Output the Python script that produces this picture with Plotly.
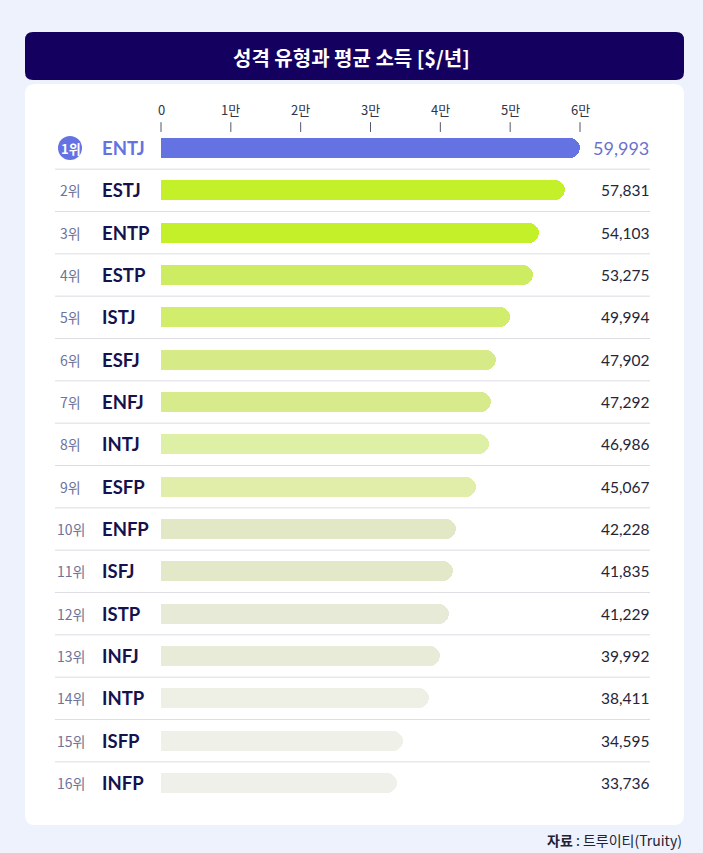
import plotly.graph_objects as go

# ---- data ----
ranks = ["1위", "2위", "3위", "4위", "5위", "6위", "7위", "8위",
         "9위", "10위", "11위", "12위", "13위", "14위", "15위", "16위"]
types = ["ENTJ", "ESTJ", "ENTP", "ESTP", "ISTJ", "ESFJ", "ENFJ", "INTJ",
         "ESFP", "ENFP", "ISFJ", "ISTP", "INFJ", "INTP", "ISFP", "INFP"]
incomes = [59993, 57831, 54103, 53275, 49994, 47902, 47292, 46986,
           45067, 42228, 41835, 41229, 39992, 38411, 34595, 33736]
bar_colors = ["#6472E2", "#C4F02A", "#C4F02A", "#CDEC62", "#D2EC6C", "#D6EA88",
              "#D7EA8C", "#DEEFA6", "#E1EEAA", "#E2E8C6", "#E3E8C9", "#E6EAD6",
              "#E7EBD8", "#EEF0E6", "#EFF0E8", "#F0F0EA"]
tick_vals = [0, 10000, 20000, 30000, 40000, 50000, 60000]
tick_text = ["0", "1만", "2만", "3만", "4만", "5만", "6만"]
title = "성격 유형과 평균 소득 [$/년]"
source_bold = "자료"
source_rest = " : 트루이티(Truity)"

# ---- layout geometry ----
W, H = 703, 853
X0PX = 161.0
SCALE = 419.0 / 60000.0          # px per unit
ROW0PX = 148.0
ROWPX = 42.333
x_range = [-X0PX / SCALE, (W - X0PX) / SCALE]
y_range = [(H - ROW0PX) / ROWPX, -ROW0PX / ROWPX]


def px_x(p):
    return p / W


def px_y(p):
    return 1 - p / H


KFONT = "Noto Sans CJK KR"
n = len(types)
ys = list(range(n))

fig = go.Figure()
fig.add_trace(go.Bar(
    x=incomes, y=ys, orientation="h", width=20 / ROWPX,
    marker=dict(color=bar_colors, line=dict(width=0), cornerradius=10),
    hoverinfo="skip", showlegend=False,
))


def rounded_path(x0, y0, x1, y1, rad):
    X = lambda v: px_x(v)
    Y = lambda v: px_y(v)
    return (f"M {X(x0+rad)},{Y(y0)} L {X(x1-rad)},{Y(y0)} Q {X(x1)},{Y(y0)} {X(x1)},{Y(y0+rad)} "
            f"L {X(x1)},{Y(y1-rad)} Q {X(x1)},{Y(y1)} {X(x1-rad)},{Y(y1)} "
            f"L {X(x0+rad)},{Y(y1)} Q {X(x0)},{Y(y1)} {X(x0)},{Y(y1-rad)} "
            f"L {X(x0)},{Y(y0+rad)} Q {X(x0)},{Y(y0)} {X(x0+rad)},{Y(y0)} Z")


shapes = []
shapes.append(dict(type="path", xref="paper", yref="paper", layer="below",
                   path=rounded_path(25, 84, 684, 825, 10),
                   fillcolor="white", line=dict(width=0)))
shapes.append(dict(type="path", xref="paper", yref="paper", layer="below",
                   path=rounded_path(25, 32, 684, 80, 8),
                   fillcolor="#14005E", line=dict(width=0)))
# separators
for i in range(n - 1):
    shapes.append(dict(type="line", xref="paper", yref="y", layer="below",
                       x0=px_x(55), x1=px_x(650), y0=i + 0.5, y1=i + 0.5,
                       line=dict(color="#DDDDE3", width=1)))
# tick marks
for tv in tick_vals:
    shapes.append(dict(type="line", xref="x", yref="y",
                       x0=tv, x1=tv, y0=-0.61, y1=-0.38,
                       line=dict(color="#555566", width=1)))
# 1위 circle
shapes.append(dict(type="circle", xref="paper", yref="y",
                   x0=px_x(58), x1=px_x(82), y0=-12 / ROWPX, y1=12 / ROWPX,
                   fillcolor="#6472E2", line=dict(width=0)))

ann = []
ann.append(dict(text=f"<b>{title}</b>", xref="paper", yref="paper",
                x=0.5, y=px_y(57), showarrow=False, xanchor="center", yanchor="middle",
                font=dict(family=KFONT, size=20, color="white")))
for tv, tt in zip(tick_vals, tick_text):
    ann.append(dict(text=tt, xref="x", yref="y", x=tv, y=-0.9, showarrow=False,
                    xanchor="center", yanchor="middle",
                    font=dict(family=KFONT, size=13, color="#333344")))
for i in range(n):
    first = i == 0
    ann.append(dict(text=f"<b>{ranks[i]}</b>" if first else ranks[i],
                    xref="paper", yref="y", x=px_x(70.5), y=i, showarrow=False,
                    xanchor="center", yanchor="middle",
                    font=dict(family=KFONT, size=13 if first else 14,
                              color="white" if first else "#6D7399")))
    ann.append(dict(text=f"<b>{types[i]}</b>", xref="paper", yref="y",
                    x=px_x(100), y=i, showarrow=False, xanchor="left", yanchor="middle",
                    font=dict(family="Lato", size=18.5,
                              color="#6472E2" if first else "#16124E")))
    ann.append(dict(text=f"{incomes[i]:,}", xref="paper", yref="y",
                    x=px_x(651), y=i, showarrow=False, xanchor="right", yanchor="middle",
                    font=dict(family="Lato", size=18 if first else 15.5,
                              color="#6A72CC" if first else "#25253A")))
ann.append(dict(text=f"<b>{source_bold}</b>{source_rest}", xref="paper", yref="paper",
                x=px_x(684), y=px_y(840), showarrow=False, xanchor="right", yanchor="middle",
                font=dict(family=KFONT, size=14, color="#222233")))

fig.update_layout(
    width=W, height=H, margin=dict(l=0, r=0, t=0, b=0),
    paper_bgcolor="#EDF2FD", plot_bgcolor="rgba(0,0,0,0)",
    xaxis=dict(range=x_range, visible=False, fixedrange=True),
    yaxis=dict(range=y_range, visible=False, fixedrange=True),
    shapes=shapes, annotations=ann, bargap=0,
)
fig.write_html("out.html")
